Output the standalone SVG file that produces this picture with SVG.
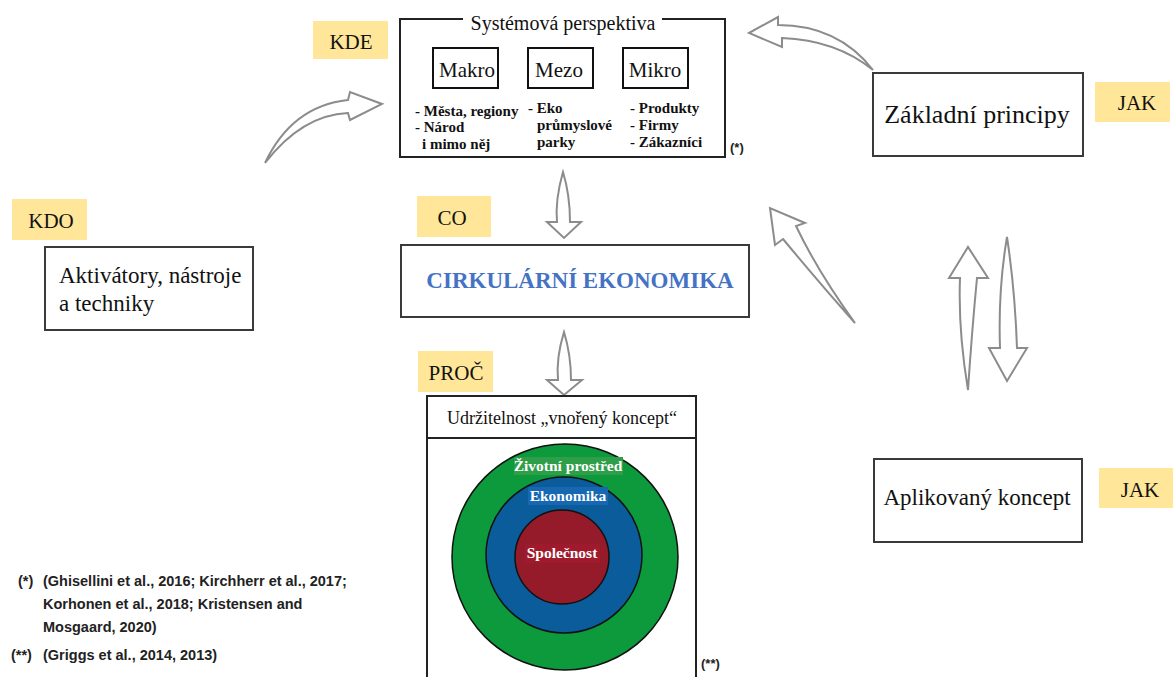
<svg xmlns="http://www.w3.org/2000/svg" width="1173" height="677" viewBox="0 0 1173 677">
  <defs>
    <style>
      .box { fill: #ffffff; stroke: #3a3a3a; stroke-width: 2; }
      .sub { fill: #ffffff; stroke: #111111; stroke-width: 2; }
      .tag { fill: #ffe699; }
      .arrow { fill: #ffffff; stroke: #8c8c8c; stroke-width: 2; stroke-linejoin: miter; }
      .serif { font-family: "Liberation Serif", "Times New Roman", serif; fill: #111111; }
      .tagtxt { font-family: "Liberation Serif", "Times New Roman", serif; font-size: 21px; fill: #111111; text-anchor: middle; }
      .item { font-family: "Liberation Serif", "Times New Roman", serif; font-size: 15px; font-weight: bold; fill: #111111; }
      .ref { font-family: "Liberation Sans", Arial, sans-serif; font-size: 14.5px; font-weight: bold; fill: #222222; }
      .mark { font-family: "Liberation Sans", Arial, sans-serif; font-size: 13px; font-weight: bold; fill: #222222; }
      .ring { font-family: "Liberation Serif", "Times New Roman", serif; font-size: 15.5px; font-weight: bold; fill: #ffffff; text-anchor: middle; }
    </style>
  </defs>

  <rect width="1173" height="677" fill="#ffffff"/>

  <!-- connectors -->
  <g id="connectors">
    <path class="arrow" d="M 265,163 Q 292,106 348,100 L 350,92 L 382,104 L 350,120 L 348,113 Q 302,115 265,163 Z"/>
    <path class="arrow" d="M 873,70 Q 838,25 778,25 L 778,17 L 749,33 L 782,47 L 782,38 Q 836,40 873,70 Z"/>
    <path class="arrow" d="M 563,172 Q 555,200 557,222 L 547,222 L 564,238 L 581,222 L 570,222 Q 570,195 563,172 Z"/>
    <path class="arrow" d="M 564,332 Q 556,358 558,380 L 547,380 L 564,395 L 582,380 L 571,380 Q 571,355 564,332 Z"/>
    <path class="arrow" d="M 855,323 Q 818,272 796,226 L 805,223 L 770,208 L 775,245 L 783,239 Q 822,286 855,323 Z"/>
    <path class="arrow" d="M 968,390 Q 958,330 960,278 L 949,278 L 968,247 L 988,278 L 977,278 Q 972,330 968,390 Z"/>
    <path class="arrow" d="M 1007,237 Q 998,290 1000,348 L 989,348 L 1007,381 L 1027,348 L 1017,348 Q 1015,290 1007,237 Z"/>
  </g>

  <!-- system perspective -->
  <g id="system-perspective">
    <path d="M 463,19 L 400,19 L 400,157 L 725,157 L 725,19 L 662,19" fill="none" stroke="#222222" stroke-width="2"/>
    <text class="serif" x="563" y="30" font-size="20" text-anchor="middle">Systémová perspektiva</text>
    <rect class="sub" x="433" y="48" width="65" height="40"/>
    <rect class="sub" x="528" y="48" width="65" height="40"/>
    <rect class="sub" x="623" y="48" width="65" height="40"/>
    <text class="serif" x="467" y="77" font-size="21" text-anchor="middle">Makro</text>
    <text class="serif" x="559" y="77" font-size="21" text-anchor="middle">Mezo</text>
    <text class="serif" x="655" y="77" font-size="21" text-anchor="middle">Mikro</text>
    <text class="item" x="415" y="116">- Města, regiony</text>
    <text class="item" x="415" y="132">- Národ</text>
    <text class="item" x="422" y="149">i mimo něj</text>
    <text class="item" x="528" y="113">- Eko</text>
    <text class="item" x="537" y="130">průmyslové</text>
    <text class="item" x="537" y="147">parky</text>
    <text class="item" x="630" y="113">- Produkty</text>
    <text class="item" x="630" y="130">- Firmy</text>
    <text class="item" x="630" y="147">- Zákazníci</text>
    <text class="mark" x="730" y="152">(*)</text>
  </g>

  <g id="tag-kde">
    <rect class="tag" x="313" y="21" width="75" height="38"/>
    <text class="tagtxt" x="351" y="49">KDE</text>
  </g>

  <g id="principles">
    <rect class="box" x="873" y="73" width="210" height="83"/>
    <text class="serif" x="977" y="123" font-size="26" text-anchor="middle">Základní principy</text>
  </g>
  <g id="tag-jak-1">
    <rect class="tag" x="1095" y="82" width="75" height="40"/>
    <text class="tagtxt" x="1137" y="110">JAK</text>
  </g>

  <g id="tag-kdo">
    <rect class="tag" x="12" y="199" width="75" height="41"/>
    <text class="tagtxt" x="51" y="228">KDO</text>
  </g>
  <g id="enablers">
    <rect class="box" x="45" y="247" width="208" height="83"/>
    <text class="serif" x="59" y="283" font-size="23">Aktivátory, nástroje</text>
    <text class="serif" x="59" y="311" font-size="23">a techniky</text>
  </g>

  <g id="tag-co">
    <rect class="tag" x="417" y="196" width="74" height="41"/>
    <text class="tagtxt" x="452" y="225">CO</text>
  </g>
  <g id="circular-economy">
    <rect class="box" x="401" y="245" width="348" height="72"/>
    <text x="580" y="288" font-family="Liberation Serif, Times New Roman, serif" font-size="23" font-weight="bold" fill="#4472c4" text-anchor="middle">CIRKULÁRNÍ EKONOMIKA</text>
  </g>

  <g id="tag-proc">
    <rect class="tag" x="418" y="351" width="75" height="41"/>
    <text class="tagtxt" x="456" y="380">PROČ</text>
  </g>

  <g id="sustainability">
    <path d="M 427,677 L 427,396 L 696,396 L 696,677" fill="none" stroke="#222222" stroke-width="2"/>
    <line x1="427" y1="438" x2="696" y2="438" stroke="#222222" stroke-width="2"/>
    <text class="serif" x="562" y="424" font-size="18" text-anchor="middle">Udržitelnost „vnořený koncept“</text>
    <circle cx="565" cy="557" r="113" fill="#0c9a3c" stroke="#111111" stroke-width="1.5"/>
    <circle cx="564" cy="555" r="78" fill="#0a5c9b" stroke="#111111" stroke-width="1.5"/>
    <circle cx="562" cy="557" r="47" fill="#951b2a" stroke="#111111" stroke-width="1.5"/>
    <rect x="514" y="457" width="109" height="18" fill="#2f9e48"/>
    <text class="ring" x="568" y="471">Životní prostřed</text>
    <rect x="528" y="487" width="80" height="18" fill="#1767b3"/>
    <text class="ring" x="568" y="501">Ekonomika</text>
    <rect x="525" y="544" width="75" height="19" fill="#a01a2d"/>
    <text class="ring" x="562" y="558">Společnost</text>
    <text class="mark" x="701" y="668">(**)</text>
  </g>

  <g id="applied">
    <rect class="box" x="874" y="459" width="208" height="83"/>
    <text class="serif" x="977" y="505" font-size="23" text-anchor="middle">Aplikovaný koncept</text>
  </g>
  <g id="tag-jak-2">
    <rect class="tag" x="1099" y="468" width="74" height="40"/>
    <text class="tagtxt" x="1140" y="497">JAK</text>
  </g>

  <!-- source notes -->
  <g id="notes">
    <text class="ref" x="18" y="586">(*)</text>
    <text class="ref" x="43" y="586">(Ghisellini et al., 2016; Kirchherr et al., 2017;</text>
    <text class="ref" x="43" y="609">Korhonen et al., 2018; Kristensen and</text>
    <text class="ref" x="43" y="632">Mosgaard, 2020)</text>
    <text class="ref" x="11" y="660">(**)</text>
    <text class="ref" x="43" y="660">(Griggs et al., 2014, 2013)</text>
  </g>
</svg>
